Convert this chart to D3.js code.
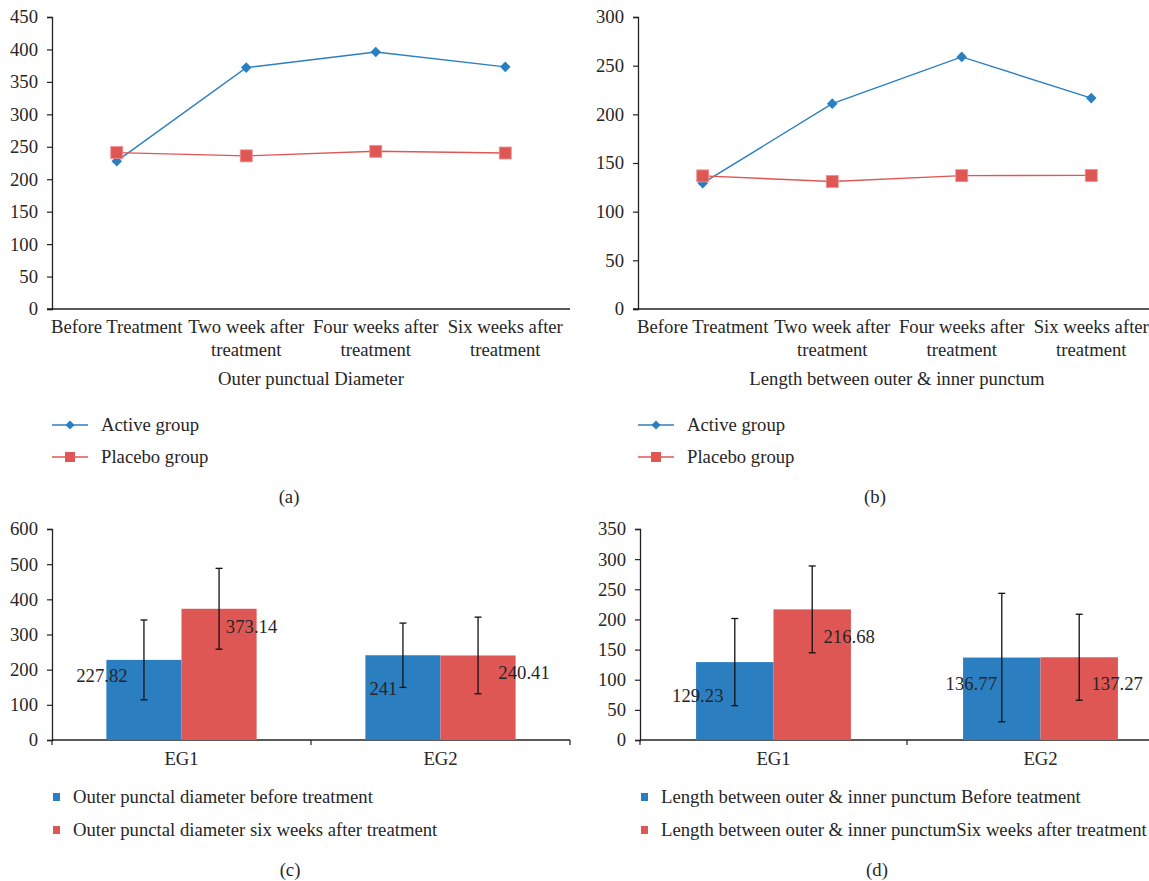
<!DOCTYPE html>
<html><head><meta charset="utf-8">
<script src="https://cdn.jsdelivr.net/npm/d3@7/dist/d3.min.js"></script>
<style>
body{margin:0;background:#fff;}
svg text{font-family:"Liberation Serif","Times New Roman",serif;fill:#262626;}
</style></head>
<body><svg id="c" width="1149" height="881"></svg>
<script>
// ---- data ----
const timeCategories = [["Before Treatment"],["Two week after","treatment"],["Four weeks after","treatment"],["Six weeks after","treatment"]];
const lineSeriesNames = ["Active group","Placebo group"];
const diamActive = [227.82, 372, 396, 373.14];
const diamPlacebo = [241, 236, 243, 240.41];
const lengthActive = [129.23, 211, 259, 216.68];
const lengthPlacebo = [136.77, 131, 137, 137.27];
const diamTicks = [0,50,100,150,200,250,300,350,400,450];
const lengthTicks = [0,50,100,150,200,250,300];

const groups = ["EG1","EG2"];
const barDiamBefore = [227.82, 241];
const barDiamAfter = [373.14, 240.41];
const barDiamBeforeErr = [113.5, 91.5];
const barDiamAfterErr = [115, 109];
const barLenBefore = [129.23, 136.77];
const barLenAfter = [216.68, 137.27];
const barLenBeforeErr = [72.3, 106.5];
const barLenAfterErr = [72, 71.3];
const barDiamTicks = [0,100,200,300,400,500,600];
const barLenTicks = [0,50,100,150,200,250,300,350];
const barDiamNames = ["Outer punctal diameter before treatment","Outer punctal diameter six weeks after treatment"];
const barLenNames = ["Length between outer & inner punctum Before teatment","Length between outer & inner punctumSix weeks after treatment"];

const BLUE = "#2b7fc1", RED = "#df5755";
const svg = d3.select("#c");
const FS = 18.7;

function yAxis(g, y, ticks, x0){
  const a = g.append("g").attr("transform",`translate(${x0},0)`)
    .call(d3.axisLeft(y).tickValues(ticks).tickSize(5).tickPadding(9).tickFormat(d3.format("d")));
  a.select(".domain").attr("stroke","#222").attr("stroke-width",1.3);
  a.selectAll(".tick line").attr("stroke","#222").attr("stroke-width",1.2);
  a.selectAll("text").attr("font-size",FS).attr("fill","#262626").attr("font-family","Liberation Serif");
}

function lineChart(x0, x1, yMax, ticks, act, plc, title, tag){
  const g = svg.append("g");
  const y = d3.scaleLinear().domain([0,yMax]).range([309,17]);
  const x = d3.scalePoint().domain(d3.range(4)).range([x0,x1]).padding(0.5);
  yAxis(g, y, ticks, x0);
  g.append("line").attr("x1",x0-5).attr("x2",x1).attr("y1",y(0)).attr("y2",y(0)).attr("stroke","#222").attr("stroke-width",1.3);
  timeCategories.forEach((lines,i)=>{
    lines.forEach((t,j)=>g.append("text").attr("x",x(i)).attr("y",333+j*23).attr("text-anchor","middle").attr("font-size",FS).text(t));
  });
  g.append("text").attr("x",(x0+x1)/2).attr("y",385).attr("text-anchor","middle").attr("font-size",FS).text(title);
  const line = d3.line().x((d,i)=>x(i)).y(d=>y(d));
  [[act,BLUE,"d"],[plc,RED,"s"]].forEach(([vals,col,m])=>{
    g.append("path").attr("d",line(vals)).attr("fill","none").attr("stroke",col).attr("stroke-width",1.4);
    vals.forEach((v,i)=>{
      if(m==="d") g.append("path").attr("d",d3.symbol().type(d3.symbolSquare).size(56)()).attr("transform",`translate(${x(i)},${y(v)}) rotate(45)`).attr("fill",col);
      else g.append("rect").attr("x",x(i)-6).attr("y",y(v)-6).attr("width",12).attr("height",12).attr("fill",col).attr("stroke","#f09090").attr("stroke-width",0.8);
    });
  });
  // legend
  [[BLUE,"d"],[RED,"s"]].forEach(([col,m],k)=>{
    const ly = 425 + k*32;
    g.append("line").attr("x1",x0).attr("x2",x0+36).attr("y1",ly).attr("y2",ly).attr("stroke",col).attr("stroke-width",1.4);
    if(m==="d") g.append("path").attr("d",d3.symbol().type(d3.symbolSquare).size(40)()).attr("transform",`translate(${x0+18},${ly}) rotate(45)`).attr("fill",col);
    else g.append("rect").attr("x",x0+13).attr("y",ly-5).attr("width",10).attr("height",10).attr("fill",col);
    g.append("text").attr("x",x0+49).attr("y",ly+6).attr("font-size",FS).text(lineSeriesNames[k]);
  });
  g.append("text").attr("x",(x0+x1)/2 - 22).attr("y",503).attr("text-anchor","middle").attr("font-size",FS).text(tag);
}

lineChart(52, 570, 450, diamTicks, diamActive, diamPlacebo, "Outer punctual Diameter", "(a)");
lineChart(638, 1156, 300, lengthTicks, lengthActive, lengthPlacebo, "Length between outer & inner punctum", "(b)");

function barChart(x0, x1, yMax, ticks, before, after, errB, errA, names, labelOff, tag, tagX){
  const g = svg.append("g");
  const y = d3.scaleLinear().domain([0,yMax]).range([740,529]);
  const xg = d3.scaleBand().domain(groups).range([x0,x1]).padding(0);
  const bw = xg.bandwidth();
  const xs = d3.scaleBand().domain([0,1]).range([bw*0.21, bw*0.79]).padding(0);
  yAxis(g, y, ticks, x0);
  const xa = g.append("g").attr("transform",`translate(0,${y(0)})`).call(d3.axisBottom(xg).tickSize(0).tickPadding(12));
  xa.select(".domain").remove();
  xa.selectAll("text").attr("font-size",FS).attr("fill","#262626").attr("font-family","Liberation Serif");
  g.append("line").attr("x1",x0).attr("x2",x1).attr("y1",y(0)).attr("y2",y(0)).attr("stroke","#222").attr("stroke-width",1.3);
  [x0, x0+bw, x1].forEach(t=>g.append("line").attr("x1",t).attr("x2",t).attr("y1",y(0)).attr("y2",y(0)+5).attr("stroke","#222").attr("stroke-width",1.2));
  const series = [[before,errB,BLUE],[after,errA,RED]];
  series.forEach(([vals,errs,col],s)=>{
    vals.forEach((v,i)=>{
      const bx = xg(groups[i]) + xs(s);
      g.append("rect").attr("x",bx).attr("y",y(v)).attr("width",xs.bandwidth()).attr("height",y(0)-y(v)).attr("fill",col);
    });
  });
  series.forEach(([vals,errs,col],s)=>{
    vals.forEach((v,i)=>{
      const cx = xg(groups[i]) + xs(s) + xs.bandwidth()/2;
      const e = errs[i];
      g.append("line").attr("x1",cx).attr("x2",cx).attr("y1",y(v+e)).attr("y2",y(v-e)).attr("stroke","#111").attr("stroke-width",1.3);
      [v+e, v-e].forEach(q=>g.append("line").attr("x1",cx-3.5).attr("x2",cx+3.5).attr("y1",y(q)).attr("y2",y(q)).attr("stroke","#111").attr("stroke-width",1.3));
      const off = labelOff[s][i];
      g.append("text").attr("x",cx+off[0]).attr("y",y(v)+off[1]+6).attr("text-anchor","middle").attr("font-size",FS).attr("fill","#222").text(String(v));
    });
  });
  [BLUE,RED].forEach((col,k)=>{
    const ly = 797 + k*33;
    g.append("rect").attr("x",x0+1).attr("y",ly-4).attr("width",7).attr("height",8).attr("fill",col);
    g.append("text").attr("x",x0+21).attr("y",ly+6).attr("font-size",FS).text(names[k]);
  });
  g.append("text").attr("x",tagX).attr("y",876).attr("text-anchor","middle").attr("font-size",FS).text(tag);
}

barChart(52, 570, 600, barDiamTicks, barDiamBefore, barDiamAfter, barDiamBeforeErr, barDiamAfterErr, barDiamNames,
  [[[-42,16],[-19.5,34]],[[32.5,18],[46,18]]], "(c)", 290);
barChart(640, 1174, 350, barLenTicks, barLenBefore, barLenAfter, barLenBeforeErr, barLenAfterErr, barLenNames,
  [[[-37,34],[-30.5,26.5]],[[37,28],[38,27]]], "(d)", 877);
</script></body></html>
